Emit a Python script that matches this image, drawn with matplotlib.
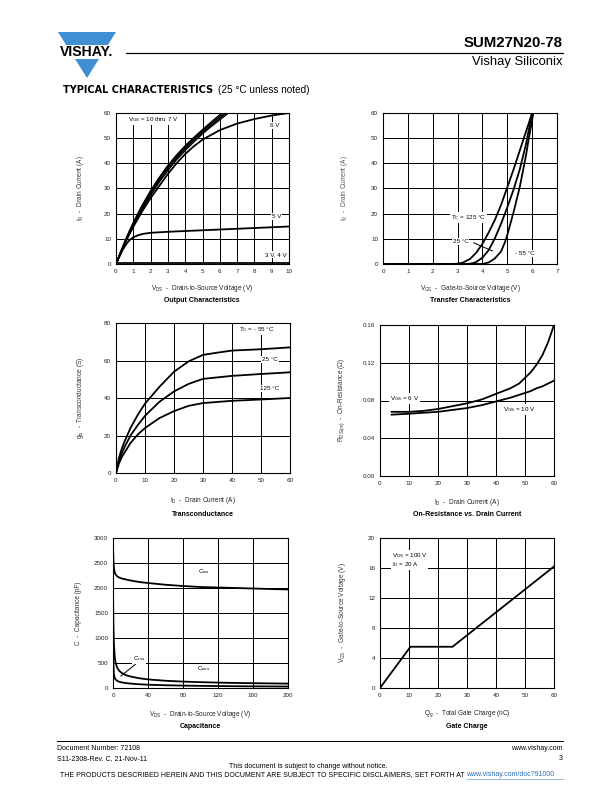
import matplotlib
matplotlib.use("Agg")
import matplotlib.pyplot as plt
from matplotlib.patches import Polygon, Rectangle
from matplotlib.lines import Line2D

plt.rcParams['font.family'] = ['Liberation Sans', 'DejaVu Sans']
plt.rcParams['mathtext.default'] = 'regular'

# ---- data read from the datasheet page ----
# output characteristics (VDS, ID)
out_vds = [0, 0.25, 0.5, 0.75, 1, 1.5, 2, 2.5, 3, 3.5, 4, 4.5, 5, 5.5, 6, 6.5]
out_10v = [0, 4.5, 8.8, 12.8, 16.5, 23.2, 29.2, 34.4, 39.2, 43.3, 47.0, 50.3, 53.4, 56.4, 59.3, 62]
out_9v = [0, 4.4, 8.6, 12.5, 16.1, 22.7, 28.6, 33.8, 38.6, 42.7, 46.4, 49.8, 52.9, 55.8, 58.6, 61.3]
out_8v = [0, 4.3, 8.4, 12.2, 15.7, 22.2, 28.0, 33.2, 37.9, 42.1, 45.8, 49.2, 52.3, 55.2, 58.0, 60.6]
out_7v = [0, 4.1, 8.1, 11.8, 15.2, 21.6, 27.3, 32.5, 37.2, 41.4, 45.1, 48.5, 51.7, 54.6, 57.3, 60]
out_6v_x = [0, 0.25, 0.5, 0.75, 1, 1.5, 2, 2.5, 3, 3.5, 4, 4.5, 5, 6, 7, 8, 9, 10]
out_6v = [0, 4.0, 7.9, 11.5, 14.8, 20.8, 26.2, 31.0, 35.8, 40.0, 43.7, 46.8, 49.4, 53.2, 55.8, 57.6, 59.0, 60]
out_5v_x = [0, 0.2, 0.4, 0.6, 0.8, 1, 1.3, 1.6, 2, 3, 4, 5, 6, 7, 8, 9, 10]
out_5v = [0, 3.0, 5.8, 8.0, 9.6, 10.6, 11.5, 12.0, 12.4, 12.8, 13.1, 13.4, 13.7, 14.0, 14.3, 14.6, 14.9]
out_34v_x = [0, 10]
out_34v = [0.3, 0.3]

# transfer characteristics (VGS, ID)
tr125_x = [0, 2.8, 3.0, 3.2, 3.5, 3.75, 4.0, 4.25, 4.5, 4.75, 5.0, 5.25, 5.5, 5.75, 6.0, 6.1]
tr125_y = [0, 0, 0.15, 0.5, 2.0, 4.5, 8.0, 12.5, 17.5, 23.5, 30.5, 37.5, 45.0, 52.5, 60.0, 63]
tr25_x = [0, 3.4, 3.6, 3.75, 4.0, 4.25, 4.5, 4.75, 5.0, 5.25, 5.5, 5.75, 6.0, 6.1]
tr25_y = [0, 0, 0.3, 0.8, 2.5, 5.5, 10.2, 16.0, 22.5, 29.5, 37.5, 47.5, 60.0, 64]
trm55_x = [0, 4.0, 4.25, 4.5, 4.75, 4.9, 5.0, 5.25, 5.5, 5.75, 5.85, 6.05, 6.1]
trm55_y = [0, 0, 0.6, 2.2, 5.0, 8.5, 11.5, 20.5, 30.5, 43.0, 49.0, 60.0, 62]

# transconductance (ID, gfs)
gfs_id = [0, 1, 2, 3, 5, 7.5, 10, 15, 20, 25, 30, 35, 40, 50, 60]
gfs_m55 = [0, 8, 13, 17, 24, 31, 37, 46, 54, 59.5, 63, 64.2, 65.3, 66.0, 67.0]
gfs_25 = [0, 6.5, 10.5, 14, 20, 25.5, 30.5, 38, 43.5, 47.5, 50.2, 51, 51.8, 52.8, 53.7]
gfs_125 = [0, 5, 8.5, 11, 16, 20.5, 24, 29.3, 33, 35.8, 37.3, 37.9, 38.5, 39.2, 40.0]

# on-resistance vs drain current (ID, RDS(on))
rds_id = [4, 10, 15, 20, 25, 30, 35, 40, 45, 48, 50, 52, 54, 56, 58, 60]
rds_6v = [0.068, 0.068, 0.069, 0.071, 0.074, 0.077, 0.081, 0.087, 0.093, 0.098, 0.104, 0.110, 0.118, 0.128, 0.142, 0.160]
rds_10v = [0.065, 0.066, 0.067, 0.068, 0.070, 0.072, 0.075, 0.079, 0.083, 0.086, 0.088, 0.090, 0.093, 0.095, 0.098, 0.101]

# capacitance (VDS, C)
cap_vds = [0, 0.5, 1, 2, 3, 5, 7, 10, 15, 20, 30, 40, 60, 80, 100, 120, 140, 160, 180, 200]
cap_ciss = [2850, 2550, 2400, 2310, 2270, 2230, 2210, 2190, 2170, 2150, 2120, 2100, 2065, 2040, 2020, 2010, 2000, 1990, 1980, 1970]
cap_coss = [1900, 1250, 900, 620, 500, 400, 345, 300, 255, 230, 195, 172, 145, 128, 117, 108, 101, 96, 92, 88]
cap_crss = [1100, 500, 280, 200, 170, 140, 125, 112, 98, 88, 75, 66, 55, 48, 43, 39, 36, 33, 31, 29]

# gate charge (Qg, VGS)
qg = [0, 10.5, 25, 60]
qg_vgs = [0, 5.5, 5.5, 16.2]

W, H = 612, 792
fig = plt.figure(figsize=(W / 72, H / 72), dpi=72)


def fx(x):
    return x / W


def fy(y):
    return 1 - y / H


def make_axes(x0, y0, x1, y1, xlim, ylim, xticks, yticks, ylabels=None):
    ax = fig.add_axes([fx(x0), fy(y1), fx(x1 - x0), (y1 - y0) / H])
    ax.set_xlim(*xlim)
    ax.set_ylim(*ylim)
    ax.set_xticks(xticks)
    ax.set_yticks(yticks)
    if ylabels is not None:
        ax.set_yticklabels(ylabels)
    ax.grid(True, color='black', linewidth=1.0)
    ax.set_axisbelow(True)
    ax.tick_params(length=0, labelsize=6.2, pad=5, labelcolor='#222222')
    for s in ax.spines.values():
        s.set_linewidth(1.1)
    return ax


def caption(cx, y_lab, y_title, xlabel, title):
    fig.text(fx(cx), fy(y_lab), xlabel, ha='center', va='center', fontsize=6.5, color='#222222')
    fig.text(fx(cx), fy(y_title), title, ha='center', va='center', fontsize=7, fontweight='bold')


def ylab(x, cy, text, color='#333333'):
    fig.text(fx(x), fy(cy), text, ha='center', va='center', rotation=90, fontsize=6.5, color=color)


box = dict(facecolor='white', edgecolor='none', pad=1.0)
LW = 1.8
AFS = 6.2

# ---- header ----
blue = '#3f8fd2'
fig.patches.append(Polygon([[fx(58), fy(32)], [fx(116), fy(32)], [fx(87), fy(78)]],
                           closed=True, facecolor=blue, edgecolor='none', transform=fig.transFigure))
fig.patches.append(Rectangle((fx(55), fy(59)), fx(64), 13.5 / H, facecolor='white', edgecolor='none',
                             transform=fig.transFigure))
fig.text(fx(86.5), fy(52.5), 'VISHAY.', ha='center', va='center', fontsize=14, fontweight='bold')
fig.add_artist(Line2D([fx(126), fx(563)], [fy(53), fy(53)], color='black', linewidth=1.2))
fig.text(fx(563), fy(43), 'SUM27N20-78', ha='right', va='center', fontsize=15, fontweight='bold')
fig.text(fx(563), fy(62.5), 'Vishay Siliconix', ha='right', va='center', fontsize=13)
fig.text(fx(63), fy(90), 'TYPICAL CHARACTERISTICS', ha='left', va='center', fontsize=9.7,
         fontweight='bold', family='DejaVu Sans')
fig.text(fx(218), fy(90), '(25 °C unless noted)', ha='left', va='center', fontsize=10)

# ---- output characteristics ----
ax = make_axes(116, 113, 289, 264, (0, 10), (0, 60), range(0, 11), range(0, 61, 10))
for ys in (out_10v, out_9v, out_8v, out_7v):
    ax.plot(out_vds, ys, color='black', linewidth=1.4)
ax.plot(out_6v_x, out_6v, color='black', linewidth=LW)
ax.plot(out_5v_x, out_5v, color='black', linewidth=LW)
ax.plot(out_34v_x, out_34v, color='black', linewidth=LW)
ax.text(0.7, 57.5, r'$V_{GS}$ = 10 thru 7 V', fontsize=AFS, va='center', bbox=box)
ax.text(8.9, 55.2, '6 V', fontsize=AFS, va='center', bbox=box)
ax.text(9.0, 19.0, '5 V', fontsize=AFS, va='center', bbox=box)
ax.text(8.6, 3.7, '3 V, 4 V', fontsize=AFS, va='center', bbox=box)
ylab(81, 188, r'$I_D$  -  Drain Current (A)')
caption(202, 288, 300, r'$V_{DS}$  -  Drain-to-Source Voltage (V)', 'Output Characteristics')

# ---- transfer characteristics ----
ax = make_axes(383, 113, 557, 264, (0, 7), (0, 60), range(0, 8), range(0, 61, 10))
ax.plot(tr125_x, tr125_y, color='black', linewidth=LW)
ax.plot(tr25_x, tr25_y, color='black', linewidth=LW)
ax.plot(trm55_x, trm55_y, color='black', linewidth=LW)
ax.text(2.72, 18.5, r'$T_C$ = 125 °C', fontsize=AFS, va='center', bbox=box)
ax.text(2.8, 9.0, '25 °C', fontsize=AFS, va='center', bbox=box)
ax.plot([3.65, 4.4], [8.4, 5.2], color='black', linewidth=1.0)
ax.text(5.3, 4.0, '- 55 °C', fontsize=AFS, va='center', bbox=box)
ylab(345, 188, r'$I_D$  -  Drain Current (A)', color='#555555')
caption(470, 288, 300, r'$V_{GS}$  -  Gate-to-Source Voltage (V)', 'Transfer Characteristics')

# ---- transconductance ----
ax = make_axes(116, 323, 290, 473, (0, 60), (0, 80), range(0, 61, 10), range(0, 81, 20))
for ys in (gfs_m55, gfs_25, gfs_125):
    ax.plot(gfs_id, ys, color='black', linewidth=LW)
ax.text(42.5, 76.5, r'$T_C$ = - 55 °C', fontsize=AFS, va='center', bbox=box)
ax.text(50.3, 60.5, '25 °C', fontsize=AFS, va='center', bbox=box)
ax.text(49.5, 45.0, '125 °C', fontsize=AFS, va='center', bbox=box)
ylab(80, 398, r'$g_{fs}$  -  Transconductance (S)')
caption(203, 501, 514, r'$I_D$  -  Drain Current (A)', 'Transconductance')

# ---- on-resistance ----
ax = make_axes(380, 325, 554, 476, (0, 60), (0, 0.16), range(0, 61, 10),
               [0, 0.04, 0.08, 0.12, 0.16], ['0.00', '0.04', '0.08', '0.12', '0.16'])
ax.plot(rds_id, rds_6v, color='black', linewidth=LW)
ax.plot(rds_id, rds_10v, color='black', linewidth=LW)
ax.text(3.5, 0.0825, r'$V_{GS}$ = 6 V', fontsize=AFS, va='center', bbox=box)
ax.text(42.5, 0.0705, r'$V_{GS}$ = 10 V', fontsize=AFS, va='center', bbox=box)
ylab(342, 400, r'$R_{DS(on)}$  -  On-Resistance ($\Omega$)')
caption(467, 503, 515, r'$I_D$  -  Drain Current (A)', 'On-Resistance vs. Drain Current')

# ---- capacitance ----
ax = make_axes(113, 538, 288, 688, (0, 200), (0, 3000), range(0, 201, 40), range(0, 3001, 500))
for ys in (cap_ciss, cap_coss, cap_crss):
    ax.plot(cap_vds, ys, color='black', linewidth=LW)
ax.text(97, 2330, r'$C_{iss}$', fontsize=AFS, va='center', bbox=box)
ax.text(96, 380, r'$C_{oss}$', fontsize=AFS, va='center', bbox=box)
ax.text(23, 590, r'$C_{rss}$', fontsize=AFS, va='center', bbox=box)
ax.plot([26, 9], [480, 240], color='black', linewidth=1.0)
ylab(78, 613, r'C  -  Capacitance (pF)')
caption(200, 714, 726, r'$V_{DS}$  -  Drain-to-Source Voltage (V)', 'Capacitance')

# ---- gate charge ----
ax = make_axes(380, 538, 554, 688, (0, 60), (0, 20), range(0, 61, 10), range(0, 21, 4))
ax.plot(qg, qg_vgs, color='black', linewidth=LW)
ax.text(4.0, 17.1, r'$V_{DS}$ = 100 V' + '\n' + r'$I_D$ = 20 A', fontsize=AFS, va='center',
        linespacing=1.0, bbox=box)
ylab(342, 613, r'$V_{GS}$  -  Gate-to-Source Voltage (V)')
caption(467, 714, 726, r'$Q_g$  -  Total Gate Charge (nC)', 'Gate Charge')

# ---- footer ----
fig.add_artist(Line2D([fx(57), fx(563)], [fy(741), fy(741)], color='black', linewidth=1.0))
fs = 7
fig.text(fx(57), fy(748), 'Document Number: 72108', ha='left', va='center', fontsize=fs)
fig.text(fx(57), fy(758.5), 'S11-2308-Rev. C, 21-Nov-11', ha='left', va='center', fontsize=fs)
fig.text(fx(563), fy(748), 'www.vishay.com', ha='right', va='center', fontsize=fs)
fig.text(fx(563), fy(758.5), '3', ha='right', va='center', fontsize=fs)
fig.text(fx(308), fy(767), 'This document is subject to change without notice.', ha='center',
         va='center', fontsize=fs)
fig.text(fx(465), fy(775), 'THE PRODUCTS DESCRIBED HEREIN AND THIS DOCUMENT ARE SUBJECT TO SPECIFIC '
         'DISCLAIMERS, SET FORTH AT', ha='right', va='center', fontsize=fs)
fig.text(fx(466.5), fy(775), 'www.vishay.com/doc?91000', ha='left', va='center', fontsize=fs,
         color='#2a6ebb')
fig.add_artist(Line2D([fx(466.5), fx(563)], [fy(779), fy(779)], color='#2a6ebb', linewidth=0.5))

fig.savefig('out.png', dpi=72)
